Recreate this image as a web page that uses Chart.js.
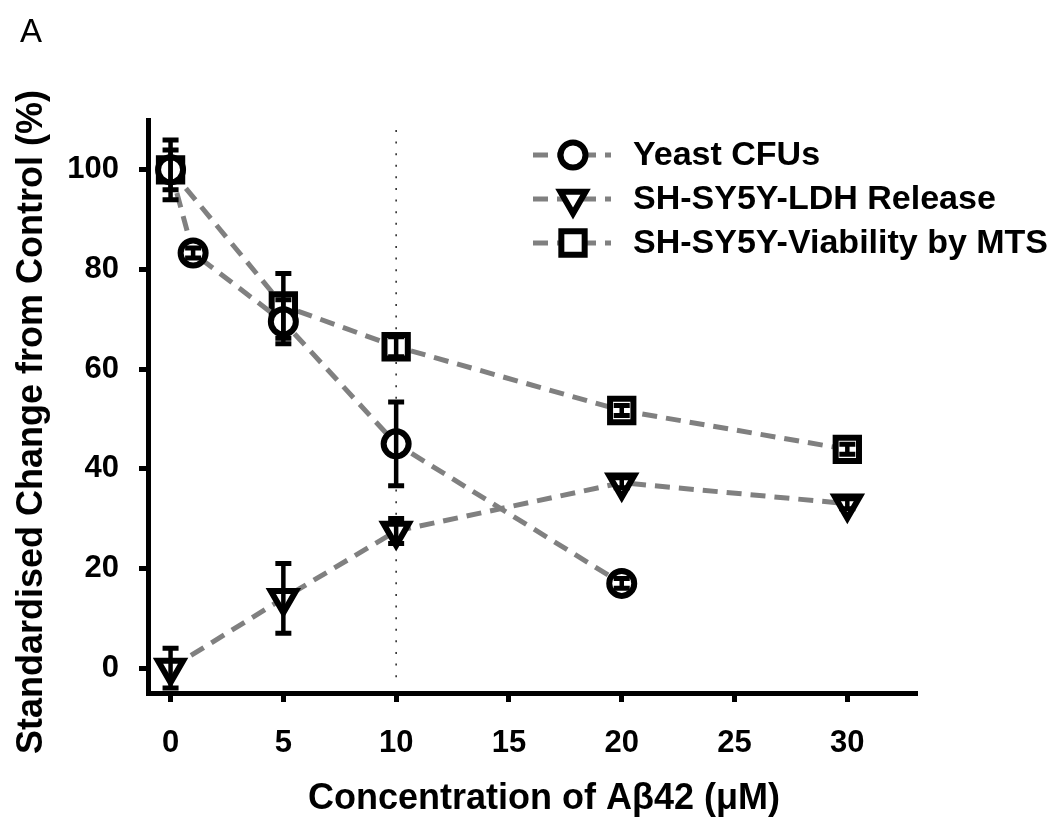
<!DOCTYPE html>
<html>
<head>
<meta charset="utf-8">
<script src="https://cdn.jsdelivr.net/npm/chart.js@4/dist/chart.umd.min.js"></script>
<style>
  body { margin: 0; background: #fff; }
  canvas { display: block; }
</style>
</head>
<body>
<canvas id="chart" width="1062" height="823"></canvas>
<script>
// values
const yeastX = [0, 1, 5, 10, 20];
const yeastY = [100, 83.3, 69.5, 45, 17];
const yeastErr = [6, 1, 4.4, 8.4, 1];

const ldhX = [0, 5, 10, 20, 30];
const ldhY = [0, 14, 27.5, 37.2, 33];
const ldhErr = [4, 7, 2.5, 1, 1];

const mtsX = [0, 5, 10, 20, 30];
const mtsY = [100, 72.7, 64.5, 51.7, 43.9];
const mtsErr = [4, 6.5, 2, 1, 1];

const seriesNames = ['Yeast CFUs', 'SH-SY5Y-LDH Release', 'SH-SY5Y-Viability by MTS'];
const xTicks = [0, 5, 10, 15, 20, 25, 30];
const yTicks = [0, 20, 40, 60, 80, 100];
const guideX = [10, 10];
const guideY = [108, -2.5];

const xTitle = 'Concentration of Aβ42 (μM)';
const yTitle = 'Standardised Change from Control (%)';

const FONT = '"Liberation Sans", Arial, Helvetica, sans-serif';

function points(xs, ys, errs) {
    return xs.map((x, i) => ({ x: x, y: ys[i], err: errs ? errs[i] : 0 }));
}

const seriesStyle = {
    borderColor: '#808080',
    borderWidth: 5,
    borderDash: [15, 9],
    pointBorderColor: '#000',
    pointBackgroundColor: '#fff',
    pointBorderWidth: 6,
    pointHoverRadius: 0,
    tension: 0,
    fill: false,
    inLegend: true,
    hasErrors: true
};

function drawMarker(ctx, style, x, y, r) {
    ctx.beginPath();
    if (style === 'circle') {
        ctx.arc(x, y, r, 0, Math.PI * 2);
    } else if (style === 'triangle') {
        // pointing down
        for (let k = 0; k < 3; k++) {
            const a = Math.PI + k * 2 * Math.PI / 3;
            const px = x + Math.sin(a) * r, py = y - Math.cos(a) * r;
            if (k === 0) ctx.moveTo(px, py); else ctx.lineTo(px, py);
        }
        ctx.closePath();
    } else {
        const s = r * Math.SQRT1_2;
        ctx.rect(x - s, y - s, 2 * s, 2 * s);
    }
    ctx.fill();
    ctx.stroke();
}

const errorBars = {
    id: 'errorBars',
    afterDatasetsDraw(chart) {
        const ctx = chart.ctx;
        const xs = chart.scales.x, ys = chart.scales.y;
        ctx.save();
        ctx.strokeStyle = '#000';
        chart.data.datasets.forEach(ds => {
            if (!ds.hasErrors) return;
            ds.data.forEach(p => {
                const px = xs.getPixelForValue(p.x);
                const top = ys.getPixelForValue(p.y + p.err);
                const bot = ys.getPixelForValue(p.y - p.err);
                ctx.lineWidth = 4.5;
                ctx.beginPath();
                ctx.moveTo(px, top);
                ctx.lineTo(px, bot);
                ctx.stroke();
                ctx.lineWidth = 5;
                ctx.beginPath();
                ctx.moveTo(px - 8, top);
                ctx.lineTo(px + 8, top);
                ctx.moveTo(px - 8, bot);
                ctx.lineTo(px + 8, bot);
                ctx.stroke();
            });
        });
        ctx.restore();
    }
};

const legendAndLabels = {
    id: 'legendAndLabels',
    afterDraw(chart) {
        const ctx = chart.ctx;
        ctx.save();
        chart.data.datasets.filter(ds => ds.inLegend).forEach((ds, i) => {
            const y = 155 + i * 44;
            ctx.setLineDash(ds.borderDash);
            ctx.strokeStyle = ds.borderColor;
            ctx.lineWidth = ds.borderWidth;
            ctx.beginPath();
            ctx.moveTo(533, y);
            ctx.lineTo(611, y);
            ctx.stroke();
            ctx.setLineDash([]);
            ctx.fillStyle = '#fff';
            ctx.strokeStyle = '#000';
            ctx.lineWidth = ds.pointBorderWidth;
            drawMarker(ctx, ds.pointStyle, 573, y, ds.pointRadius);
            ctx.fillStyle = '#000';
            ctx.font = 'bold 34px ' + FONT;
            ctx.textBaseline = 'middle';
            ctx.textAlign = 'left';
            ctx.fillText(ds.label, 633, y + 1);
        });

        // axis titles
        ctx.fillStyle = '#000';
        ctx.font = 'bold 36px ' + FONT;
        ctx.textAlign = 'center';
        ctx.textBaseline = 'middle';
        ctx.fillText(xTitle, 544, 799);
        ctx.save();
        ctx.translate(32, 422);
        ctx.rotate(-Math.PI / 2);
        ctx.fillText(yTitle, 0, 0);
        ctx.restore();

        ctx.font = '33px ' + FONT;
        ctx.textAlign = 'left';
        ctx.textBaseline = 'alphabetic';
        ctx.fillText('A', 20, 42);
        ctx.restore();
    }
};

new Chart(document.getElementById('chart').getContext('2d'), {
    type: 'line',
    data: {
        datasets: [
            Object.assign({ label: seriesNames[0], data: points(yeastX, yeastY, yeastErr),
                pointStyle: 'circle', pointRadius: 12.5 }, seriesStyle),
            Object.assign({ label: seriesNames[1], data: points(ldhX, ldhY, ldhErr),
                pointStyle: 'triangle', pointRotation: 180, pointRadius: 14.5 }, seriesStyle),
            Object.assign({ label: seriesNames[2], data: points(mtsX, mtsY, mtsErr),
                pointStyle: 'rect', pointRadius: 16.5 }, seriesStyle),
            {
                label: 'guide',
                data: points(guideX, guideY),
                borderColor: '#222',
                borderWidth: 1.5,
                borderDash: [2, 9.6],
                pointRadius: 0,
                pointHoverRadius: 0
            }
        ]
    },
    options: {
        responsive: false,
        animation: false,
        layout: { padding: { left: 0, top: 120, right: 147, bottom: 0 } },
        plugins: {
            legend: { display: false },
            tooltip: { enabled: false },
            title: { display: false }
        },
        scales: {
            x: {
                type: 'linear',
                min: -1,
                max: 33,
                afterBuildTicks: scale => { scale.ticks = xTicks.map(v => ({ value: v })); },
                afterFit: scale => { scale.height = 130; },
                border: { display: true, color: '#000', width: 5 },
                grid: { drawOnChartArea: false, drawTicks: true, tickLength: 9, lineWidth: 5, color: '#000' },
                ticks: { color: '#000', padding: 23, maxRotation: 0, font: { family: FONT, size: 31, weight: 'bold' } }
            },
            y: {
                min: -5,
                max: 110,
                afterBuildTicks: scale => { scale.ticks = yTicks.map(v => ({ value: v })); },
                afterFit: scale => { scale.width = 148; },
                border: { display: true, color: '#000', width: 5 },
                grid: { drawOnChartArea: false, drawTicks: true, tickLength: 9, lineWidth: 5, color: '#000' },
                ticks: { color: '#000', padding: 20, font: { family: FONT, size: 31, weight: 'bold' } }
            }
        }
    },
    plugins: [errorBars, legendAndLabels]
});
</script>
</body>
</html>
